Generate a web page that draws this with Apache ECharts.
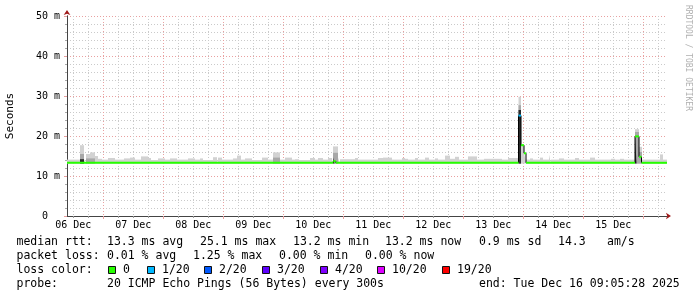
<!DOCTYPE html>
<html><head><meta charset="utf-8">
<script src="https://cdn.jsdelivr.net/npm/echarts@6/dist/echarts.min.js"></script>
<style>html,body{margin:0;padding:0;background:#fff}#c{width:697px;height:297px}</style>
</head><body><div id="c"></div>
<script>
// x values are hours since 06 Dec 00:00
const xStart = 9.5, xEnd = 249.5;
const dayLabels = ['06 Dec','07 Dec','08 Dec','09 Dec','10 Dec','11 Dec','12 Dec','13 Dec','14 Dec','15 Dec'];
const yMin = 0, yMax = 50, yStep = 10;
const smokeFloor = 13.1;

// [hour, top ms] – step values holding until the next entry
const smokeLight = [
[9.5,14.1],[14.7,17.7],[16.3,14.2],[17.1,15.5],[18.7,15.9],[20.7,15.0],[21.9,14.3],[23.5,14.1],[25.9,14.5],[28.7,14.1],
[32.3,14.4],[34.7,14.6],[36.7,14.1],[39.1,14.9],[41.9,14.5],[43.1,14.0],[45.9,14.4],[48.7,14.1],[50.7,14.4],[53.5,14.1],
[57.9,14.4],[60.7,14.1],[62.7,14.4],[63.9,14.0],[67.9,14.7],[69.5,14.2],[69.9,14.6],[71.5,14.1],[75.9,14.4],[77.5,15.1],
[79.1,14.1],[80.7,14.4],[83.5,14.0],[87.5,14.6],[89.9,14.1],[91.9,15.9],[94.7,14.1],[96.7,14.6],[99.5,14.1],[100.7,14.2],
[102.3,14.0],[106.7,14.5],[108.7,14.1],[109.9,14.5],[111.9,14.1],[113.9,14.5],[115.5,14.2],[115.9,17.4],[117.9,14.6],[118.7,14.2],
[124.7,14.5],[125.9,14.1],[133.9,14.5],[135.9,14.6],[139.5,14.1],[143.5,14.5],[144.7,14.3],[145.9,14.1],[148.7,14.5],[149.9,14.1],
[152.7,14.6],[154.3,14.1],[156.7,14.4],[157.9,14.1],[160.7,15.1],[162.7,14.3],[164.7,14.8],[166.3,14.1],[169.9,14.9],[173.5,14.1],
[176.3,14.3],[183.5,14.1],[185.9,14.5],[190.1,29.8],[191.1,18.0],[192.3,16.0],[193.1,14.1],[194.7,14.4],[195.9,14.1],[198.7,14.6],
[199.9,14.1],[202.3,15.3],[203.1,14.1],[206.3,14.4],[208.3,14.1],[212.7,14.5],[214.3,14.1],[218.7,14.6],[220.7,14.1],[227.1,14.3],
[228.7,14.1],[230.7,14.3],[232.3,14.1],[236.7,21.7],[238.3,17.3],[239.5,14.1],[246.7,15.4],[247.9,14.1]
];
const smokeMid = [[14.7,15.5],[16.3,null],[17.1,14.4],[20.7,null],[91.9,14.6],[94.7,null],[115.9,15.8],[117.9,null],
[190.1,27.7],[191.1,null],[236.7,21.0],[238.3,16.0],[239.5,null]];
const smokeDark = [[14.7,14.2],[16.3,null],[115.9,14.6],[116.5,null],[190.1,26.5],[191.1,null],[236.7,20.3],[237.3,null]];

// median rtt [hour, ms] and loss level index per step
const median = [[9.5,13.3],[116.0,13.7],[117.0,13.3],[190.1,25.1],[191.1,17.7],[192.3,15.7],[193.1,13.3],[236.7,19.9],[238.3,14.8],[239.3,13.3]];
const medianLoss = [0,0,0,1,0,0,0,0,0,0];

const lossColors = ['#26ff00','#00b8ff','#0059ff','#5e00ff','#7e00ff','#dd00ff','#ff0000'];
const lossLabels = ['0','1/20','2/20','3/20','4/20','10/20','19/20'];

const rttStats = ['13.3 ms avg','25.1 ms max','13.2 ms min','13.2 ms now','0.9 ms sd','14.3','am/s'];
const lossStats = ['0.01 % avg','1.25 % max','0.00 % min','0.00 % now'];
const probeText = '20 ICMP Echo Pings (56 Bytes) every 300s';
const endText = 'end: Tue Dec 16 09:05:28 2025';

const MONO = "'DejaVu Sans Mono'";
const cats = [];
for (let h = xStart; h <= xEnd + 1e-9; h += 0.5) cats.push(String(h));
const hv = v => Number(v);

// Smoke: one filled step segment per entry (value null = no smoke)
function smokeSeries(arr, color, z) {
  const out = [];
  arr.forEach((p, i) => {
    if (p[1] == null) return;
    const x1 = i + 1 < arr.length ? arr[i+1][0] : xEnd;
    out.push({type:'line', xAxisIndex:0, yAxisIndex:0, data:[[p[0], p[1]], [x1, p[1]]], symbol:'none',
      lineStyle:{width:0, opacity:0}, areaStyle:{color:color, opacity:1, origin:smokeFloor}, silent:true, z:z});
  });
  return out;
}
let series = [];
series = series.concat(smokeSeries(smokeLight, '#d2d2d2', 2));
series = series.concat(smokeSeries(smokeMid, '#a8a8a8', 2));
series = series.concat(smokeSeries(smokeDark, '#2a2a2a', 2));
// black vertical connectors between median steps
median.forEach((p, i) => {
  if (i === 0) return;
  series.push({type:'line', xAxisIndex:0, yAxisIndex:0, data:[[p[0], median[i-1][1]], [p[0], p[1]]], symbol:'none',
    lineStyle:{width:1, color:'#000'}, silent:true, z:3});
});
// median segments coloured by loss
median.forEach((p, i) => {
  const x1 = i + 1 < median.length ? median[i+1][0] : xEnd;
  series.push({type:'line', xAxisIndex:0, yAxisIndex:0, data:[[p[0], p[1]], [x1, p[1]]], symbol:'none',
    lineStyle:{width:2, color:lossColors[medianLoss[i]], cap:'butt'}, silent:true, z:4});
});

const dotted = c => ({color:c, width:1, type:[1,2]});
const MAJ = '#e9a0a0', MIN = '#cacaca', AXIS = '#444', ARROW = '#a01818';

const graphic = [];
function txt(s, x, y) {
  graphic.push({type:'text', x:x, y:y, silent:true,
    style:{text:s, font:"11.5px " + MONO, fill:'#000', textAlign:'left', textVerticalAlign:'middle', align:'left', verticalAlign:'middle'}});
}
txt('median rtt:', 16.5, 242);
[107, 200, 293, 385, 479, 558, 607].forEach((x, i) => txt(rttStats[i], x, 242));
txt('packet loss:', 16.5, 256);
[107, 193, 279, 365].forEach((x, i) => txt(lossStats[i], x, 256));
txt('loss color:', 16.5, 270);
const boxX = [108, 147, 204, 262, 320, 377, 442];
boxX.forEach((x, i) => {
  graphic.push({type:'rect', silent:true, shape:{x:x + 0.5, y:266.5, width:7, height:7},
    style:{fill:lossColors[i], stroke:'#111', lineWidth:1}});
  txt(lossLabels[i], x + 15, 270);
});
txt('probe:', 16.5, 284);
txt(probeText, 107, 284);
txt(endText, 479, 284);
graphic.push({type:'text', x:688, y:5, rotation:-Math.PI/2, silent:true,
  style:{text:'RRDTOOL / TOBI OETIKER', font:"8px " + MONO, fill:'#b0b0b0', textAlign:'left', textVerticalAlign:'middle', align:'left', verticalAlign:'middle'}});

const option = {
  animation:false,
  backgroundColor:'#fff',
  textStyle:{fontFamily:'DejaVu Sans Mono'},
  grid:{left:67, top:16, width:600, height:200, containLabel:false, outerBoundsMode:'none'},
  xAxis:[
    {type:'value', position:'bottom', min:xStart, max:xEnd, show:false},
    {type:'category', position:'bottom', data:cats, boundaryGap:false, z:1,
     axisLine:{show:true, lineStyle:{color:AXIS, width:1}},
     axisTick:{show:true, length:2, interval:(i, v) => hv(v) % 6 === 0 && hv(v) % 24 !== 0, lineStyle:{color:'#999'}},
     splitLine:{show:true, interval:(i, v) => hv(v) % 6 === 0 && hv(v) % 24 !== 0, lineStyle:dotted(MIN)},
     axisLabel:{show:false}},
    {type:'category', position:'bottom', data:cats, boundaryGap:false, z:1,
     axisLine:{show:false},
     axisTick:{show:true, length:3, interval:(i, v) => hv(v) % 24 === 0, lineStyle:{color:MAJ}},
     splitLine:{show:true, interval:(i, v) => hv(v) % 24 === 0, lineStyle:dotted(MAJ)},
     axisLabel:{show:true, interval:(i, v) => hv(v) % 24 === 12, margin:4,
       formatter:(v) => dayLabels[Math.floor(hv(v) / 24)], fontFamily:'DejaVu Sans Mono', fontSize:10, color:'#000'}},
    {type:'value', position:'bottom', min:xStart, max:xEnd, z:0,
     axisLine:{show:true, symbol:['none','arrow'], symbolSize:[5,5], symbolOffset:[0,4], lineStyle:{color:ARROW}},
     axisTick:{show:false}, axisLabel:{show:false}, splitLine:{show:false}}
  ],
  yAxis:[
    {type:'value', position:'left', min:yMin, max:yMax, interval:yStep, z:1,
     name:'Seconds', nameLocation:'middle', nameGap:51,
     nameTextStyle:{fontFamily:'DejaVu Sans Mono', fontSize:11, color:'#000'},
     axisLine:{show:true, lineStyle:{color:AXIS, width:1}},
     axisTick:{show:true, length:3, lineStyle:{color:MAJ}},
     minorTick:{show:true, splitNumber:5, length:2, lineStyle:{color:'#aaa'}},
     splitLine:{show:true, lineStyle:dotted(MAJ)},
     minorSplitLine:{show:true, lineStyle:dotted(MIN)},
     axisLabel:{margin:7, fontFamily:'DejaVu Sans Mono', fontSize:10, color:'#000',
       formatter:v => v === 0 ? '0  ' : v + ' m'}},
    {type:'value', position:'left', min:yMin, max:yMax, z:0,
     axisLine:{show:true, symbol:['none','arrow'], symbolSize:[5,5], symbolOffset:[0,6], lineStyle:{color:ARROW}},
     axisTick:{show:false}, axisLabel:{show:false}, splitLine:{show:false}}
  ],
  series:series,
  graphic:graphic
};
const chart = echarts.init(document.getElementById('c'), null, {renderer:'canvas'});
chart.setOption(option);
</script></body></html>
